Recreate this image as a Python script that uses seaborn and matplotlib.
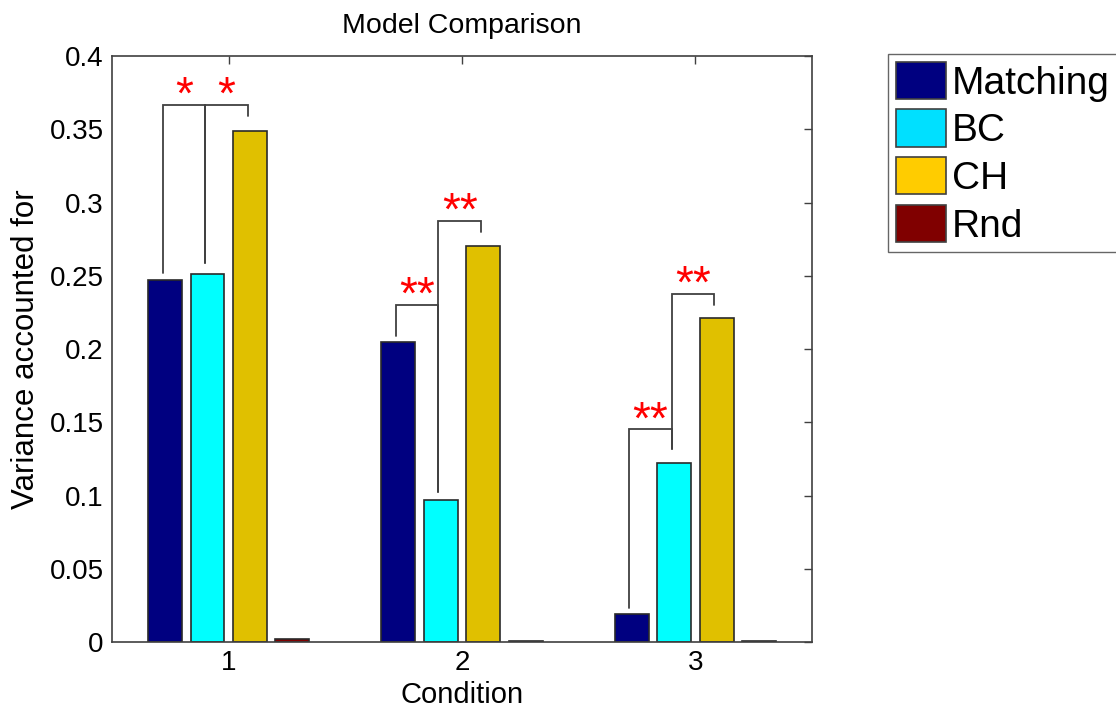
import matplotlib
matplotlib.use("Agg")
import matplotlib.pyplot as plt
from matplotlib.patches import Patch
import seaborn as sns
import pandas as pd
import numpy as np

conditions = ["1", "2", "3"]
models = ["Matching", "BC", "CH", "Rnd"]
matching = [0.247, 0.205, 0.019]
bc = [0.251, 0.097, 0.122]
ch = [0.349, 0.270, 0.221]
rnd = [0.002, 0.0008, 0.0008]

bar_colors = ["#000080", "#00FFFF", "#E0C000", "#800000"]
legend_colors = ["#000080", "#00E0FF", "#FFCC00", "#800000"]

yticks = [0, 0.05, 0.1, 0.15, 0.2, 0.25, 0.3, 0.35, 0.4]
ytick_labels = ["0", "0.05", "0.1", "0.15", "0.2", "0.25", "0.3", "0.35", "0.4"]

# significance brackets: (condition idx, model a, model b, bar height, leg a bottom, leg b bottom, label)
brackets = [
    (0, 0, 1, 0.3666, 0.252, 0.259, "*"),
    (0, 1, 2, 0.3666, 0.259, 0.359, "*"),
    (1, 0, 1, 0.2303, 0.2092, 0.1022, "**"),
    (1, 1, 2, 0.2876, 0.1022, 0.2801, "**"),
    (2, 0, 1, 0.1451, 0.0232, 0.1315, "**"),
    (2, 1, 2, 0.2378, 0.1315, 0.2303, "**"),
]

df = pd.DataFrame({
    "Condition": conditions * 4,
    "Model": np.repeat(models, 3),
    "Value": matching + bc + ch + rnd,
})

sns.set_style("white")
plt.rcParams["font.family"] = ["Liberation Sans", "DejaVu Sans"]
plt.rcParams["text.color"] = "black"
plt.rcParams["axes.labelcolor"] = "black"
plt.rcParams["xtick.labelcolor"] = "black"
plt.rcParams["ytick.labelcolor"] = "black"

fig = plt.figure(figsize=(11.16, 7.11), dpi=100)
ax = fig.add_axes([0.1004, 0.0970, 0.6272, 0.8242])

group_width = 0.727
sns.barplot(data=df, x="Condition", y="Value", hue="Model", order=conditions,
            hue_order=models, palette=bar_colors, width=group_width, gap=0.2,
            edgecolor="#2a2a2a", linewidth=1.2, saturation=1, legend=False, ax=ax)

slot = group_width / len(models)
offsets = (np.arange(len(models)) - 1.5) * slot
line_color = "#404040"
for ci, a, b, h, ya, yb, label in brackets:
    xa = ci + offsets[a] - 0.01
    xb = ci + offsets[b] - 0.01
    ax.plot([xa, xa, xb, xb], [ya, h, h, yb], color=line_color, lw=1.3,
            solid_joinstyle="miter", zorder=3)
    ax.annotate(label, ((xa + xb) / 2, h), xytext=(0, -3), textcoords="offset points",
                ha="center", va="baseline", color="red", fontsize=33, zorder=4)

ax.set_xlim(-0.5, 2.5)
ax.set_ylim(0, 0.4)
ax.set_yticks(yticks)
ax.set_yticklabels(ytick_labels)
ax.set_title("Model Comparison", fontsize=20.5, pad=16.5)
ax.set_xlabel("Condition", fontsize=21, labelpad=3)
ax.set_ylabel("Variance accounted for", fontsize=22.5, labelpad=6)
ax.tick_params(axis="both", which="both", direction="in", length=6, width=1,
               color=line_color, labelsize=20, top=True, right=True, pad=6)
for sp in ax.spines.values():
    sp.set_visible(True)
    sp.set_color(line_color)
    sp.set_linewidth(1.2)

handles = [Patch(facecolor=c, edgecolor="#404040", linewidth=1.2) for c in legend_colors]
fig.legend(handles, models, loc="upper left", bbox_to_anchor=(888 / 1116, 1 - 54 / 711),
           fontsize=28, frameon=True, fancybox=False, edgecolor="#404040",
           handlelength=1.3, handleheight=1.1, handletextpad=0.15,
           labelspacing=0.2, borderpad=0.2, borderaxespad=0)

fig.savefig("out.png", dpi=100)
